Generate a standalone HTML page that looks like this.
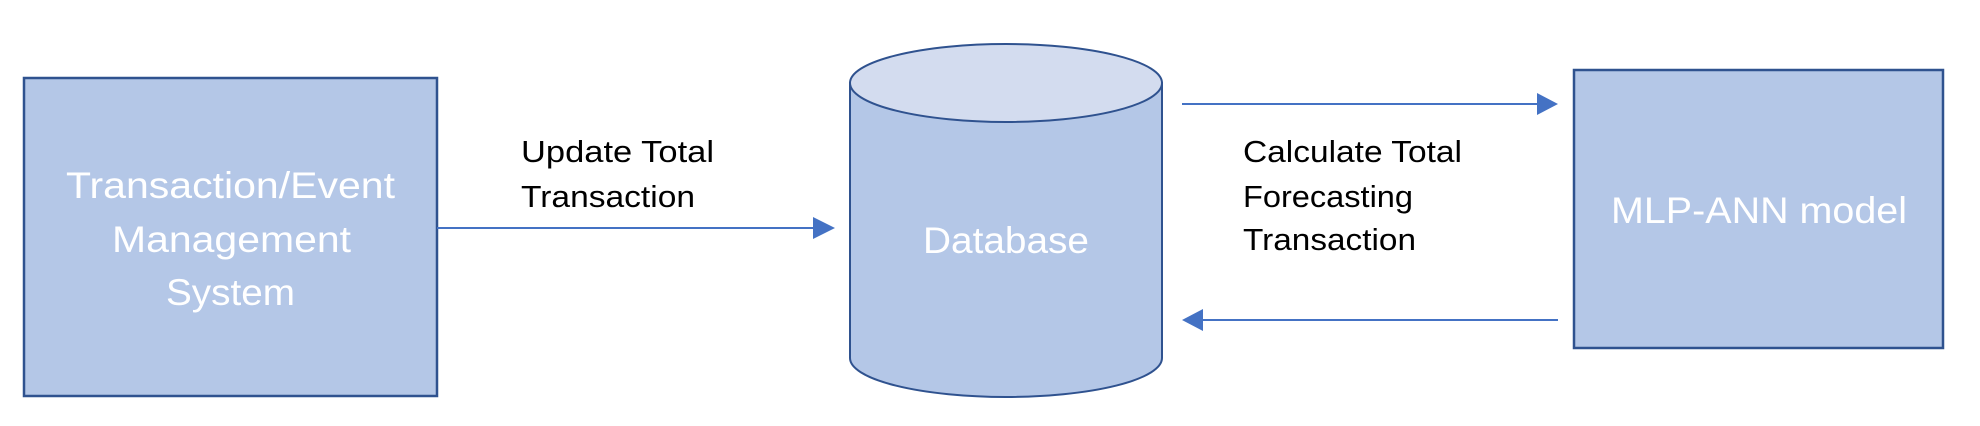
<!DOCTYPE html>
<html><head><meta charset="utf-8"><style>html,body{margin:0;padding:0;background:#fff}svg{display:block}</style></head>
<body>
<svg width="1980" height="426" viewBox="0 0 1980 426" xmlns="http://www.w3.org/2000/svg" font-family="Liberation Sans, sans-serif">
<rect x="24" y="78" width="413" height="318" fill="#b4c7e7" stroke="#2f528f" stroke-width="2.5"/>
<rect x="1574" y="70" width="369" height="278" fill="#b4c7e7" stroke="#2f528f" stroke-width="2.5"/>
<path d="M850 83 L850 358 A156 39 0 0 0 1162 358 L1162 83 Z" fill="#b4c7e7" stroke="#2f528f" stroke-width="2"/>
<ellipse cx="1006" cy="83" rx="156" ry="39" fill="#d3dcef" stroke="#2f528f" stroke-width="2"/>
<g stroke="#4472c4" stroke-width="2" fill="#4472c4">
<line x1="437" y1="228" x2="815" y2="228"/><polygon points="813,217 835,228 813,239" stroke="none"/>
<line x1="1182" y1="104" x2="1540" y2="104"/><polygon points="1537,93 1558,104 1537,115" stroke="none"/>
<line x1="1200" y1="320" x2="1558" y2="320"/><polygon points="1203,309 1182,320 1203,331" stroke="none"/>
</g>
<g fill="#fff" font-size="37">
<text x="66" y="198" textLength="329" lengthAdjust="spacingAndGlyphs">Transaction/Event</text>
<text x="112" y="252" textLength="239" lengthAdjust="spacingAndGlyphs">Management</text>
<text x="166" y="305" textLength="129" lengthAdjust="spacingAndGlyphs">System</text>
<text x="923" y="253" textLength="166" lengthAdjust="spacingAndGlyphs">Database</text>
<text x="1611" y="223" textLength="296" lengthAdjust="spacingAndGlyphs">MLP-ANN model</text>
</g>
<g fill="#000" font-size="31">
<text x="521" y="162" textLength="193" lengthAdjust="spacingAndGlyphs">Update Total</text>
<text x="521" y="207" textLength="174" lengthAdjust="spacingAndGlyphs">Transaction</text>
<text x="1243" y="162" textLength="219" lengthAdjust="spacingAndGlyphs">Calculate Total</text>
<text x="1243" y="207" textLength="170" lengthAdjust="spacingAndGlyphs">Forecasting</text>
<text x="1243" y="250" textLength="173" lengthAdjust="spacingAndGlyphs">Transaction</text>
</g>
</svg>
</body></html>
